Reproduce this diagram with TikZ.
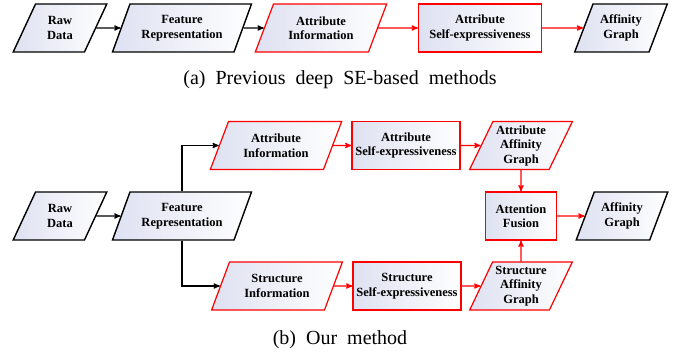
\documentclass[tikz,border=0pt]{standalone}
\usepackage{fontspec}
\setmainfont{Liberation Serif}
\usetikzlibrary{shapes,arrows,positioning}

\definecolor{boxshade}{RGB}{222,225,241}

\tikzset{
  databox/.style={trapezium,trapezium left angle=63,trapezium right angle=117,
    trapezium stretches=true,draw,line width=1.4pt,minimum height=48pt,
    left color=boxshade,right color=white,align=center,inner sep=1pt,
    font=\fontsize{12.5}{14.5}\selectfont\bfseries},
  procbox/.style={rectangle,draw,line width=1.4pt,minimum height=48pt,
    left color=boxshade,right color=white,align=center,inner sep=1pt,
    font=\fontsize{12.5}{14.5}\selectfont\bfseries},
  newpart/.style={draw=red,line width=1.2pt},
  link/.style={->,>=stealth',line width=1.2pt},
  redlink/.style={link,red},
  caption/.style={font=\fontsize{20}{23}\selectfont}
}

\begin{document}
\begin{tikzpicture}[x=1pt,y=-1pt]
\useasboundingbox (0,0) rectangle (678,353);

% (a) previous deep SE-based methods
\node[databox,minimum width=94pt] (rawA) at (60,28) {Raw\\Data};
\node[databox,minimum width=139pt] (featA) at (182,28) {Feature\\Representation};
\node[databox,newpart,minimum width=132pt] (attrinfoA) at (321,28) {Attribute\\Information};
\node[procbox,newpart,minimum width=123pt] (attrseA) at (480,28) {Attribute\\Self-expressiveness};
\node[databox,minimum width=93pt] (affA) at (621,28) {Affinity\\Graph};

\draw[link] (rawA.east) -- (featA.west);
\draw[link] (featA.east) -- (attrinfoA.west);
\draw[redlink] (attrinfoA.east) -- (attrseA.west);
\draw[redlink] (attrseA.east) -- (affA.west);

\node[caption] (capA) at (340,80) {(a)\ \ Previous\ \ deep\ \ SE-based\ \ methods};

% (b) our method
\node[databox,minimum width=94pt] (rawB) at (60,216) {Raw\\Data};
\node[databox,minimum width=139pt] (featB) at (182,216) {Feature\\Representation};

\node[databox,newpart,minimum width=132pt] (attrinfo) at (276,145.5) {Attribute\\Information};
\node[procbox,newpart,minimum width=108pt] (attrse) at (406,145.5) {Attribute\\Self-expressiveness};
\node[databox,newpart,minimum width=103pt] (attraff) at (521,145.5) {Attribute\\Affinity\\Graph};

\node[databox,newpart,minimum width=132pt] (structinfo) at (277,286) {Structure\\Information};
\node[procbox,newpart,minimum width=108pt] (structse) at (407,286) {Structure\\Self-expressiveness};
\node[databox,newpart,minimum width=103pt] (structaff) at (521,286) {Structure\\Affinity\\Graph};

\node[procbox,newpart,minimum width=71pt] (fusion) at (521,216) {Attention\\Fusion};
\node[databox,minimum width=92pt] (affB) at (622,216) {Affinity\\Graph};

\draw[link] (rawB.east) -- (featB.west);
\draw[link] (featB.north) |- (attrinfo.west);
\draw[link] (featB.south) |- (structinfo.west);
\draw[redlink] (attrinfo.east) -- (attrse.west);
\draw[redlink] (attrse.east) -- (attraff.west);
\draw[redlink] (structinfo.east) -- (structse.west);
\draw[redlink] (structse.east) -- (structaff.west);
\draw[redlink] (attraff.south) -- (fusion.north);
\draw[redlink] (structaff.north) -- (fusion.south);
\draw[redlink] (fusion.east) -- (affB.west);

\node[caption] (capB) at (340,340) {(b)\ \ Our\ \ method};
\end{tikzpicture}
\end{document}
